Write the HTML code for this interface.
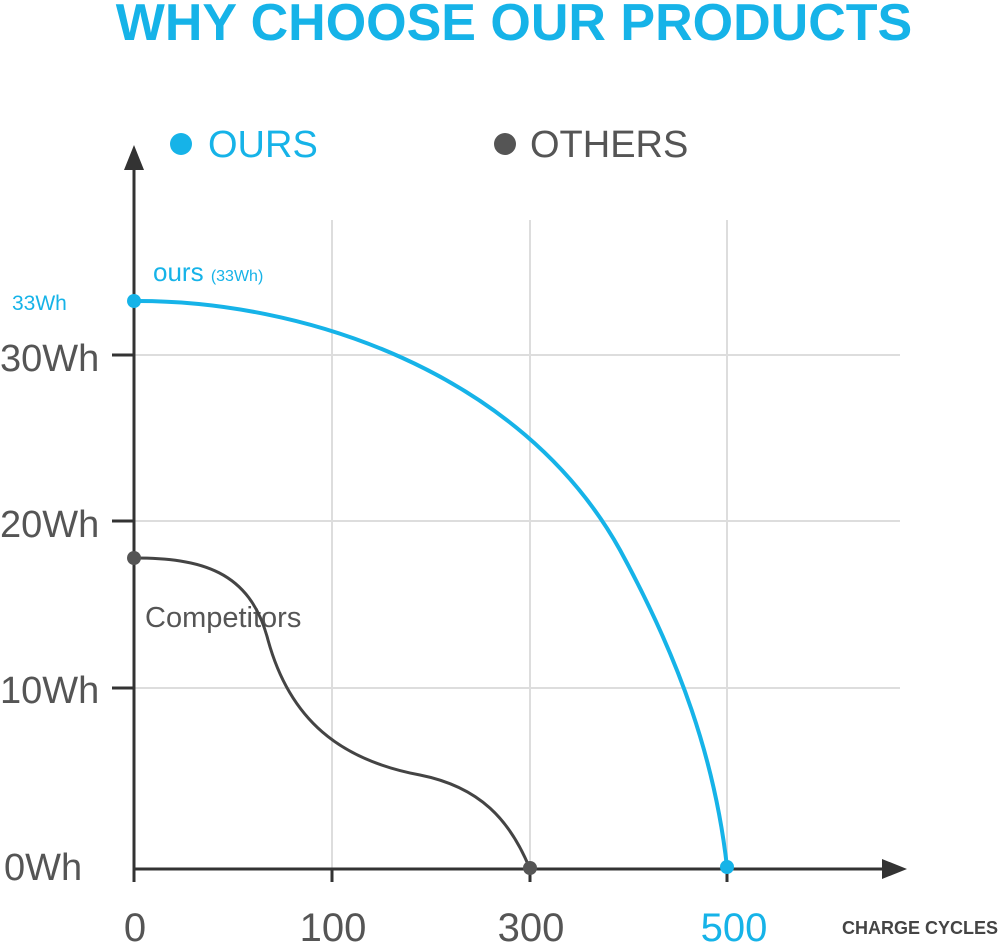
<!DOCTYPE html>
<html><head><meta charset="utf-8"><style>
html,body{margin:0;padding:0;background:#fff;}
svg{display:block;font-family:"Liberation Sans",sans-serif;}
</style></head><body>
<svg width="1000" height="946" viewBox="0 0 1000 946">
<text x="514" y="40" text-anchor="middle" font-size="52" font-weight="bold" fill="#16b3e8">WHY CHOOSE OUR PRODUCTS</text>
<circle cx="181" cy="144" r="11" fill="#16b3e8"/>
<text x="208" y="157" font-size="38" fill="#16b3e8">OURS</text>
<circle cx="505" cy="144" r="11" fill="#555"/>
<text x="530" y="157" font-size="38" fill="#555">OTHERS</text>
<g stroke="#ddd" stroke-width="2">
<line x1="332" y1="220" x2="332" y2="869"/>
<line x1="530" y1="220" x2="530" y2="869"/>
<line x1="727" y1="220" x2="727" y2="869"/>
<line x1="134" y1="355" x2="900" y2="355"/>
<line x1="134" y1="521" x2="900" y2="521"/>
<line x1="134" y1="688" x2="900" y2="688"/>
</g>
<g stroke="#333" stroke-width="3">
<line x1="134" y1="160" x2="134" y2="869"/>
<line x1="134" y1="869" x2="890" y2="869"/>
<line x1="112" y1="355" x2="134" y2="355"/>
<line x1="112" y1="521" x2="134" y2="521"/>
<line x1="112" y1="688" x2="134" y2="688"/>
<line x1="134" y1="869" x2="134" y2="882"/>
<line x1="332" y1="869" x2="332" y2="882"/>
<line x1="530" y1="869" x2="530" y2="882"/>
<line x1="727" y1="869" x2="727" y2="882"/>
</g>
<polygon points="134,145 124,170 144,170" fill="#333"/>
<polygon points="907,869 882,859 882,879" fill="#333"/>
<g font-size="38" fill="#555">
<text x="0" y="371">30Wh</text>
<text x="0" y="537">20Wh</text>
<text x="0" y="703">10Wh</text>
<text x="4" y="880">0Wh</text>
<text x="135" y="941" text-anchor="middle" font-size="40">0</text>
<text x="333" y="941" text-anchor="middle" font-size="40">100</text>
<text x="531" y="941" text-anchor="middle" font-size="40">300</text>
</g>
<text x="734" y="941" text-anchor="middle" font-size="40" fill="#16b3e8">500</text>
<text x="998" y="934" text-anchor="end" font-size="18" font-weight="bold" fill="#444">CHARGE CYCLES</text>
<text x="12" y="310" font-size="21" fill="#16b3e8">33Wh</text>
<text x="153" y="281" font-size="26" fill="#16b3e8">ours <tspan font-size="16">(33Wh)</tspan></text>
<text x="145" y="627" font-size="29" fill="#555">Competitors</text>
<path d="M134 301 C 300 300, 520 370, 620 550 C 680 660, 715 760, 727 867" fill="none" stroke="#16b3e8" stroke-width="4"/>
<path d="M134 558 C 200 558, 250 570, 268 640 C 290 720, 340 760, 420 775 C 480 787, 510 820, 530 869" fill="none" stroke="#444" stroke-width="3"/>
<circle cx="134" cy="301" r="7" fill="#16b3e8"/>
<circle cx="727" cy="867" r="7" fill="#16b3e8"/>
<circle cx="134" cy="558" r="7" fill="#555"/>
<circle cx="530" cy="868" r="7" fill="#555"/>
</svg>
</body></html>
